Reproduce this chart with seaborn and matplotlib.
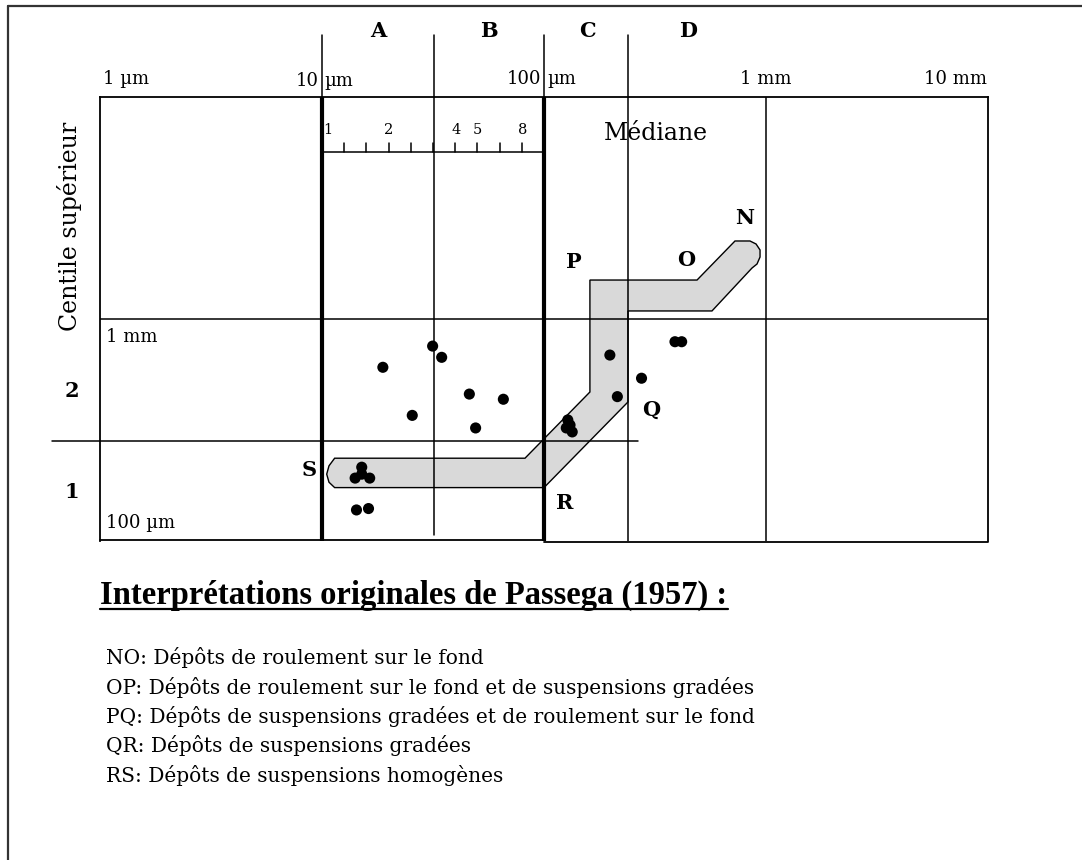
import numpy as np
import pandas as pd
import matplotlib
matplotlib.use("Agg")
import matplotlib.pyplot as plt
from matplotlib.lines import Line2D
import seaborn as sns

# ---------------- data (µm) ----------------
median_um = [18.8, 31.5, 34.6, 46.1, 65.6, 25.5, 49.2,
             15.1, 14.1, 16.4, 15.1, 14.3, 16.2,
             389, 417, 198, 275, 214, 128, 126, 134, 131]
centile_um = [606, 755, 672, 459, 435, 368, 323,
              215, 192, 192, 200, 138, 140,
              790, 790, 688, 541, 447, 351, 323, 310, 333]

band_median = [11.4, 82.1, 161, 161, 489, 725, 847, 902, 940, 940, 911, 865,
               571, 239, 239, 100, 11.4, 10.75, 10.5, 10.75]
band_centile = [236, 236, 469, 1498, 1498, 2246, 2246, 2177, 2046, 1902, 1769, 1697,
                1087, 1087, 423, 174, 174, 184, 200, 218]

top_labels = ["1 µm", "10", "µm", "100", "µm", "1 mm", "10 mm"]
zone_letters = ["A", "B", "C", "D"]
zone_bounds = [10, 32, 100, 240]
ruler_labels = ["1", "2", "4", "5", "8"]
ruler_values = [1, 2, 4, 5, 8]
band_letters = ["N", "O", "P", "Q", "R", "S"]
legend_lines = [
    "NO: Dépôts de roulement sur le fond",
    "OP: Dépôts de roulement sur le fond et de suspensions gradées",
    "PQ: Dépôts de suspensions gradées et de roulement sur le fond",
    "QR: Dépôts de suspensions gradées",
    "RS: Dépôts de suspensions homogènes",
]
title_text = "Interprétations originales de Passega (1957) :"

# ---------------- layout ----------------
sns.set_style("white")
plt.rcParams["font.family"] = ["DejaVu Serif", "DejaVu Sans"]
plt.rcParams["text.color"] = "black"

W, H = 1082, 860
fig = plt.figure(figsize=(W / 100, H / 100), dpi=100)
ax = fig.add_axes([100 / W, 1 - 541 / H, 888 / W, 444 / H])
ax.set_xscale("log")
ax.set_yscale("log")
ax.set_xlim(1, 10000)
ax.set_ylim(100, 10000)
ax.set_xticks([]); ax.set_yticks([])
ax.minorticks_off()
ax.tick_params(which="both", length=0)
for s in ["top", "left", "right"]:
    ax.spines[s].set_color("black")
    ax.spines[s].set_linewidth(1.3)
ax.spines["bottom"].set_visible(False)


def xpx(px):
    return 10 ** ((px - 100) / 222)


def ypx(py):
    return 10 ** (2 + (541 - py) / 222)


def ftext(x, y, s, **kw):
    fig.text(x / W, 1 - y / H, s, color="black", **kw)


K = "black"
# band
ax.fill(band_median, band_centile, facecolor="#d9d9d9", edgecolor=K, lw=1.0, zorder=1)

# grid / zone lines
ax.plot([10, 10], [100, 10000], color=K, lw=3.0, solid_capstyle="butt", zorder=3)
ax.plot([100, 100], [100, 10000], color=K, lw=3.0, solid_capstyle="butt", zorder=3)
ax.plot([1000, 1000], [100, 10000], color=K, lw=1.1, zorder=3)
ax.plot([zone_bounds[1]] * 2, [ypx(535), 10000], color=K, lw=1.1, zorder=3)
ax.plot([zone_bounds[3]] * 2, [100, 10000], color=K, lw=1.1, zorder=3)
for b in zone_bounds:
    ax.plot([b, b], [10000, ypx(35)], color=K, lw=1.1, clip_on=False, zorder=3)
ax.plot([1, 10000], [1000, 1000], color=K, lw=1.1, zorder=3)
ax.plot([xpx(52), xpx(638)], [ypx(441)] * 2, color=K, lw=1.1, clip_on=False, zorder=3)
# bottom border (two slightly offset segments)
ax.plot([1, 100], [ypx(540)] * 2, color=K, lw=1.3, clip_on=False, zorder=3)
ax.plot([100, 10000], [ypx(542)] * 2, color=K, lw=1.3, clip_on=False, zorder=3)

# ruler
yr = ypx(152)
ax.plot([10, 100], [yr, yr], color=K, lw=1.1, zorder=3)
for k in range(1, 10):
    xv = 10 ** (1 + k / 10)
    ax.plot([xv, xv], [yr, ypx(143)], color=K, lw=1.1, zorder=3)
for lab, v in zip(ruler_labels, ruler_values):
    xv = 10 * v * (1.06 if v == 1 else 1.0)
    ax.text(xv, ypx(130), lab, ha="center", va="center", fontsize=10.5,
            color="black", zorder=4)

# points
df = pd.DataFrame({"median": median_um, "centile": centile_um})
sns.scatterplot(data=df, x="median", y="centile", ax=ax, color=K, s=64,
                marker="o", edgecolor="none", zorder=5, legend=False)
ax.set_xlabel(""); ax.set_ylabel("")

# top labels
fs_s = 13
ftext(103, 79, top_labels[0], ha="left", va="center", fontsize=fs_s)
ftext(319, 81, top_labels[1], ha="right", va="center", fontsize=fs_s)
ftext(324, 81, top_labels[2], ha="left", va="center", fontsize=fs_s)
ftext(541, 79, top_labels[3], ha="right", va="center", fontsize=fs_s)
ftext(547, 79, top_labels[4], ha="left", va="center", fontsize=fs_s)
ftext(766, 79, top_labels[5], ha="center", va="center", fontsize=fs_s)
ftext(987, 79, top_labels[6], ha="right", va="center", fontsize=fs_s)

for lab, x in zip(zone_letters, [378, 489, 587, 688]):
    ftext(x, 31, lab, ha="center", va="center", fontsize=15, fontweight="bold")

ftext(106, 337, "1 mm", ha="left", va="center", fontsize=fs_s)
ftext(106, 523, "100 µm", ha="left", va="center", fontsize=fs_s)
ftext(72, 391, "2", ha="center", va="center", fontsize=15, fontweight="bold")
ftext(72, 492, "1", ha="center", va="center", fontsize=15, fontweight="bold")
ftext(70, 226, "Centile supérieur", ha="center", va="center", rotation=90, fontsize=17)
ftext(604, 133, "Médiane", ha="left", va="center", fontsize=17)

for lab, (x, y) in zip(band_letters, [(745, 218), (686, 260), (574, 262),
                                      (651, 410), (565, 503), (309, 470)]):
    ftext(x, y, lab, ha="center", va="center", fontsize=15, fontweight="bold")

# interpretation block
ftext(100, 604, title_text, ha="left", va="baseline", fontsize=23.5,
      fontweight="bold", family=["Liberation Serif", "DejaVu Serif"])
fig.add_artist(Line2D([100 / W, 728 / W], [1 - 609 / H] * 2, color=K, lw=1.6))
for i, line in enumerate(legend_lines):
    ftext(106, 658 + i * 29.3, line, ha="left", va="center", fontsize=14.5)

# outer border (top and left)
fig.add_artist(Line2D([7.5 / W, 7.5 / W], [0, 1 - 6 / H], color="#333333", lw=1.6))
fig.add_artist(Line2D([7.5 / W, 1], [1 - 6 / H] * 2, color="#333333", lw=1.6))

fig.savefig("out.png", dpi=100, facecolor="white")
